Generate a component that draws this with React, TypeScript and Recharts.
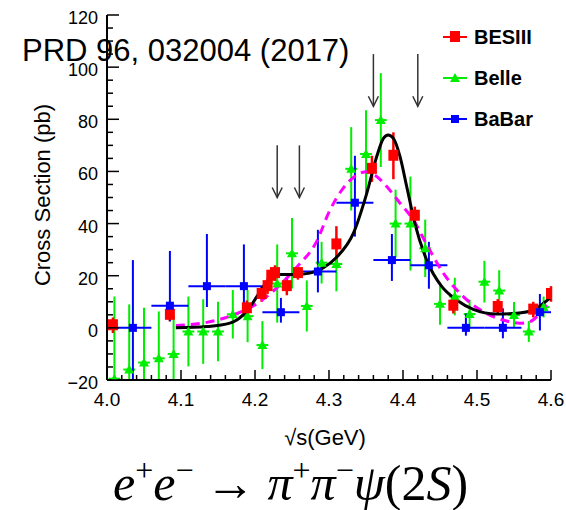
import React from 'react';
import { ComposedChart, Scatter, Line, XAxis, YAxis, ErrorBar, ReferenceLine } from 'recharts';

// BESIII
const BES_E = [4.008, 4.085, 4.189, 4.209, 4.217, 4.222, 4.227, 4.243, 4.258, 4.310, 4.358, 4.387, 4.416, 4.468, 4.528, 4.576, 4.600];
const BES_XS = [1, 5, 7.5, 13, 16, 20, 21, 16, 21, 32, 61, 66, 43, 8.5, 8, 7, 13];
const BES_ERR = [3, 2.5, 3, 3, 3, 3, 3, 3.5, 2.5, 7, 5, 9, 3.5, 3, 3, 3, 3];

// Belle
const BELLE_E = [4.010, 4.030, 4.050, 4.070, 4.090, 4.110, 4.130, 4.150, 4.170, 4.190, 4.210, 4.230, 4.250, 4.270, 4.290, 4.310, 4.330, 4.350, 4.370, 4.390, 4.410, 4.430, 4.450, 4.470, 4.490, 4.510, 4.530, 4.550, 4.570, 4.590];
const BELLE_XS = [-19.5, -16, -13.3, -11.7, -10, -1.4, -1.4, -1.4, 5.2, 4.5, -6.6, 17, 28.6, 8.4, 25, 24.5, 61, 66.7, 79.7, 40, 40, 30.5, 9.2, 12, 5.3, 17.7, 14.3, 4.9, -1.4, 8];
const BELLE_ERR = [31.5, 25, 21, 18, 15, 13.4, 12.4, 11.4, 9.3, 10, 9.2, 15, 13.5, 9.8, 8, 10.5, 16, 16.8, 18, 13, 18, 11, 8, 7.2, 5.5, 8, 7.8, 5, 4, 4];
const BELLE_HALF_BIN = 0.008;

// BaBar
const BABAR_E = [4.035, 4.085, 4.135, 4.185, 4.235, 4.285, 4.335, 4.385, 4.435, 4.485, 4.535, 4.585];
const BABAR_XS = [0, 8.5, 16, 16, 6, 21.6, 48, 26, 24, 0, 0, 6];
const BABAR_ERR_LO = [26, 6, 8, 8, 4, 8, 13, 8, 9, 3, 4, 7];
const BABAR_ERR_HI = [26, 21, 20, 16, 5.5, 16, 18, 10, 9, 5.5, 7.5, 7];
const BABAR_HALF_BIN = 0.025;

// fit curves (black solid, magenta dashed)
const FIT_E = [4.093, 4.135, 4.166, 4.184, 4.198, 4.211, 4.2225, 4.234, 4.256, 4.274, 4.292, 4.310, 4.333, 4.351, 4.3645, 4.3735, 4.380, 4.387, 4.396, 4.405, 4.416, 4.432, 4.452, 4.4725, 4.495, 4.5265, 4.5535, 4.576, 4.5985];
const FIT_XS = [0, 0.5, 1.8, 5, 10, 15.8, 19.4, 20.5, 20.5, 21, 23, 27, 36.3, 51.6, 65.7, 72.7, 74, 72.7, 65.7, 54.2, 40.1, 26, 16, 10.7, 7.1, 5.3, 5.6, 6.9, 11.4];
const ALT_E = [4.093, 4.135, 4.171, 4.202, 4.229, 4.256, 4.283, 4.301, 4.319, 4.3375, 4.351, 4.362, 4.378, 4.396, 4.414, 4.432, 4.4545, 4.4815, 4.5085, 4.5355, 4.558, 4.5715, 4.585, 4.5965];
const ALT_XS = [0.9, 2.1, 5, 9.2, 15.2, 23.2, 33, 45, 53.5, 58.6, 59.9, 58.6, 54.2, 47.8, 41.4, 32, 21, 12, 6.2, 3, 1.8, 2.4, 5.6, 10];

// arrows
const ARROW_E = [4.23, 4.26, 4.36, 4.42];
const ARROW_TOP = [70, 70, 105, 105];
const ARROW_TIP = [50, 50, 85, 85];

// axes
const X_DOMAIN = [4.0, 4.6];
const Y_DOMAIN = [-20, 120];
const X_TICKS = Array.from({ length: 31 }, (_, i) => +(4.0 + i * 0.02).toFixed(2));
const Y_TICKS = Array.from({ length: 29 }, (_, i) => -20 + 5 * i);

const SERIES_NAMES = ['BESIII', 'Belle', 'BaBar'];
const SERIES_COLORS = ['#ff0000', '#00ee00', '#0000ff'];

const SANS = 'Liberation Sans, Arial, Helvetica, sans-serif';
const SERIF = 'Liberation Serif, Times New Roman, serif';

// error bars are cut at the frame, like the reference
const yErr = (v: number, lo: number, hi: number) => [Math.min(lo, v - Y_DOMAIN[0]), Math.min(hi, Y_DOMAIN[1] - v)];
const xErr = (e: number, h: number) => [Math.min(h, e - X_DOMAIN[0]), Math.min(h, X_DOMAIN[1] - e)];

const besData = BES_E.map((e, i) => ({ e, v: BES_XS[i], ey: yErr(BES_XS[i], BES_ERR[i], BES_ERR[i]) }));
const belleData = BELLE_E.map((e, i) => ({ e, v: BELLE_XS[i], ey: yErr(BELLE_XS[i], BELLE_ERR[i], BELLE_ERR[i]), ex: xErr(e, BELLE_HALF_BIN) }));
const babarData = BABAR_E.map((e, i) => ({ e, v: BABAR_XS[i], ey: yErr(BABAR_XS[i], BABAR_ERR_LO[i], BABAR_ERR_HI[i]), ex: xErr(e, BABAR_HALF_BIN) }));
const fitData = FIT_E.map((e, i) => ({ e, v: FIT_XS[i] }));
const altData = ALT_E.map((e, i) => ({ e, v: ALT_XS[i] }));

const isMajorX = (v: number) => Math.abs(v * 10 - Math.round(v * 10)) < 1e-6;
const isMajorY = (v: number) => Math.abs(v % 20) < 1e-6;

const LeftTick = (p: any) => {
  const { x, y, payload } = p;
  const v = payload.value;
  const major = isMajorY(v);
  return (
    <g>
      <line x1={x} y1={y} x2={x + (major ? 12 : 6)} y2={y} stroke="#000" strokeWidth={1.5} />
      {major && (
        <text x={x - 9} y={y + 9} textAnchor="end" fontSize={18} fontFamily={SANS} fill="#000">
          {v < 0 ? `\u2212${-v}` : `${v}`}
        </text>
      )}
    </g>
  );
};

const RightTick = (p: any) => {
  const { x, y, payload } = p;
  const major = isMajorY(payload.value);
  return <line x1={x - (major ? 12 : 6)} y1={y} x2={x} y2={y} stroke="#000" strokeWidth={1.5} />;
};

const BottomTick = (p: any) => {
  const { x, y, payload } = p;
  const v = payload.value;
  const major = isMajorX(v);
  return (
    <g>
      <line x1={x} y1={y} x2={x} y2={y - (major ? 10 : 5)} stroke="#000" strokeWidth={1.5} />
      {major && (
        <text x={x} y={y + 26} textAnchor="middle" fontSize={19} fontFamily={SANS} fill="#000">
          {v.toFixed(1)}
        </text>
      )}
    </g>
  );
};

const TopTick = (p: any) => {
  const { x, y, payload } = p;
  const major = isMajorX(payload.value);
  return <line x1={x} y1={y} x2={x} y2={y + (major ? 10 : 5)} stroke="#000" strokeWidth={1.5} />;
};

const RedSquare = (p: any) => <rect x={p.cx - 5} y={p.cy - 6} width={10} height={11} fill="#ff0000" />;
const BlueSquare = (p: any) => <rect x={p.cx - 4} y={p.cy - 4} width={8} height={8} fill="#0000ff" />;
const GreenTriangle = (p: any) => (
  <polygon points={`${p.cx},${p.cy - 5} ${p.cx - 5},${p.cy + 4} ${p.cx + 5},${p.cy + 4}`} fill="#00ee00" />
);

const Arrow = (p: any) => {
  const { x1, y1, x2, y2 } = p;
  return (
    <g>
      <line x1={x1} y1={y1} x2={x2} y2={y2} stroke="#333" strokeWidth={1.5} />
      <polyline points={`${x2 - 5},${y2 - 10} ${x2},${y2} ${x2 + 5},${y2 - 10}`} fill="none" stroke="#333" strokeWidth={1.5} />
    </g>
  );
};

const LEGEND_ROWS_Y = [37, 78, 119];

const LegendMarker = ({ i, cx, cy }: { i: number; cx: number; cy: number }) => {
  if (i === 0) return <RedSquare cx={cx} cy={cy} />;
  if (i === 1) return <GreenTriangle cx={cx} cy={cy} />;
  return <BlueSquare cx={cx} cy={cy} />;
};

export default function App() {
  return (
    <div style={{ position: 'absolute', left: 0, top: 0, width: 566, height: 510, background: '#fff' }}>
      <ComposedChart width={566} height={510} margin={{ top: 15, right: 15, bottom: 100, left: 0 }}>
        <XAxis
          xAxisId="x"
          type="number"
          dataKey="e"
          orientation="bottom"
          domain={X_DOMAIN}
          allowDataOverflow
          ticks={X_TICKS}
          interval={0}
          tickLine={false}
          tickSize={0}
          tickMargin={0}
          height={30}
          axisLine={{ stroke: '#000', strokeWidth: 2 }}
          tick={BottomTick}
        />
        <XAxis
          xAxisId="xt"
          type="number"
          dataKey="e"
          orientation="top"
          domain={X_DOMAIN}
          allowDataOverflow
          ticks={X_TICKS}
          interval={0}
          tickLine={false}
          tickSize={0}
          tickMargin={0}
          height={0}
          axisLine={{ stroke: '#000', strokeWidth: 2 }}
          tick={TopTick}
        />
        <YAxis
          yAxisId="y"
          type="number"
          orientation="left"
          domain={Y_DOMAIN}
          allowDataOverflow
          ticks={Y_TICKS}
          interval={0}
          tickLine={false}
          tickSize={0}
          tickMargin={0}
          width={107}
          axisLine={{ stroke: '#000', strokeWidth: 2 }}
          tick={LeftTick}
        />
        <YAxis
          yAxisId="yr"
          type="number"
          orientation="right"
          domain={Y_DOMAIN}
          allowDataOverflow
          ticks={Y_TICKS}
          interval={0}
          tickLine={false}
          tickSize={0}
          tickMargin={0}
          width={0}
          axisLine={{ stroke: '#000', strokeWidth: 2 }}
          tick={RightTick}
        />

        <Scatter name="Belle" data={belleData} dataKey="v" xAxisId="x" yAxisId="y" shape={GreenTriangle} isAnimationActive={false}>
          <ErrorBar dataKey="ey" direction="y" width={0} stroke="#00ee00" strokeWidth={2} isAnimationActive={false} />
          <ErrorBar dataKey="ex" direction="x" width={0} stroke="#00ee00" strokeWidth={2} isAnimationActive={false} />
        </Scatter>
        <Scatter name="BESIII" data={besData} dataKey="v" xAxisId="x" yAxisId="y" shape={RedSquare} isAnimationActive={false}>
          <ErrorBar dataKey="ey" direction="y" width={0} stroke="#ff0000" strokeWidth={2.5} isAnimationActive={false} />
        </Scatter>
        <Scatter name="BaBar" data={babarData} dataKey="v" xAxisId="x" yAxisId="y" shape={BlueSquare} isAnimationActive={false}>
          <ErrorBar dataKey="ey" direction="y" width={0} stroke="#0000ff" strokeWidth={2} isAnimationActive={false} />
          <ErrorBar dataKey="ex" direction="x" width={0} stroke="#0000ff" strokeWidth={2} isAnimationActive={false} />
        </Scatter>

        <Line data={altData} dataKey="v" xAxisId="x" yAxisId="y" type="monotone" stroke="#ff00ff" strokeWidth={3} strokeDasharray="9 6" dot={false} isAnimationActive={false} />
        <Line data={fitData} dataKey="v" xAxisId="x" yAxisId="y" type="monotone" stroke="#000" strokeWidth={3} dot={false} isAnimationActive={false} />

        {ARROW_E.map((e, i) => (
          <ReferenceLine
            key={i}
            xAxisId="x"
            yAxisId="y"
            segment={[{ x: e, y: ARROW_TOP[i] }, { x: e, y: ARROW_TIP[i] }]}
            stroke="#333"
            shape={Arrow}
          />
        ))}
      </ComposedChart>

      <svg width={566} height={510} style={{ position: 'absolute', left: 0, top: 0, pointerEvents: 'none' }}>
        <text x={22} y={61} fontSize={31} fontFamily={SANS} fill="#000">PRD 96, 032004 (2017)</text>
        <text x={42} y={195} transform="rotate(-90 42 195)" textAnchor="middle" dominantBaseline="central" fontSize={22} fontFamily={SANS} fill="#000">Cross Section (pb)</text>
        <text x={325} y={445} textAnchor="middle" fontSize={22} fontFamily={SANS} fill="#000">{'\u221As(GeV)'}</text>
        {SERIES_NAMES.map((n, i) => (
          <g key={n}>
            <line x1={443} y1={LEGEND_ROWS_Y[i]} x2={467} y2={LEGEND_ROWS_Y[i]} stroke={SERIES_COLORS[i]} strokeWidth={2} />
            <LegendMarker i={i} cx={455} cy={LEGEND_ROWS_Y[i]} />
            <text x={474} y={LEGEND_ROWS_Y[i] + 7} fontSize={20} fontWeight="bold" fontFamily={SANS} fill="#000">{n}</text>
          </g>
        ))}
        <text x={113} y={500} fontSize={50} fontFamily={SERIF} fill="#000">
          <tspan fontStyle="italic">e</tspan>
          <tspan dy={-19} fontSize={32}>+</tspan>
          <tspan dy={19} fontStyle="italic">e</tspan>
          <tspan dy={-19} fontSize={32}>{'\u2212'}</tspan>
          <tspan dy={19} dx={12}>{'\u2192'}</tspan>
          <tspan dx={12} fontStyle="italic">{'\u03C0'}</tspan>
          <tspan dy={-19} fontSize={32}>+</tspan>
          <tspan dy={19} fontStyle="italic">{'\u03C0'}</tspan>
          <tspan dy={-19} fontSize={32}>{'\u2212'}</tspan>
          <tspan dy={19} fontStyle="italic">{'\u03C8'}</tspan>
          <tspan>(2</tspan>
          <tspan fontStyle="italic">S</tspan>
          <tspan>)</tspan>
        </text>
      </svg>
    </div>
  );
}
